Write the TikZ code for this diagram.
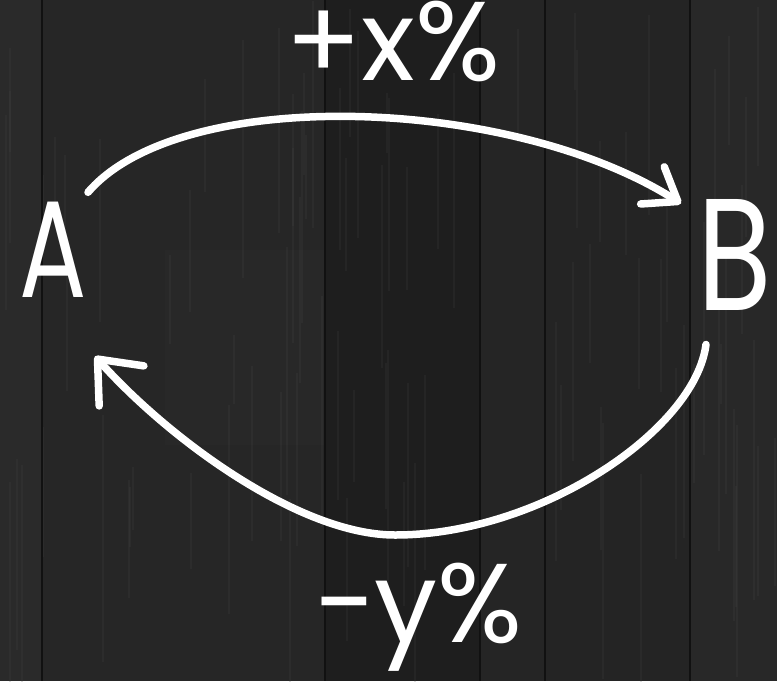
\documentclass[tikz,border=0pt]{standalone}
\usepackage{fontspec}
\setmainfont{Poppins}
\usetikzlibrary{arrows.meta,calc}
\definecolor{woodA}{HTML}{2A2A2A}
\definecolor{woodB}{HTML}{262626}
\definecolor{woodC}{HTML}{1E1E1E}
\definecolor{woodD}{HTML}{252525}
\definecolor{woodE}{HTML}{242424}
\definecolor{woodF}{HTML}{282828}
\definecolor{seamcol}{HTML}{111111}
\definecolor{streak}{HTML}{4A4A4A}
\begin{document}
\begin{tikzpicture}[x=1pt,y=-1pt,
  chalk/.style={draw=white,line width=7.5pt,line cap=round,line join=round},
  letter/.style={text=white,inner sep=0pt,anchor=base,font=\fontsize{135}{135}\selectfont},
  pct/.style={text=white,inner sep=0pt,anchor=base,font=\fontsize{112}{112}\selectfont},
  seam/.style={draw=seamcol,line width=2.2pt},
  grain/.style={draw=streak,line width=1.2pt,opacity=0.18}
]
\useasboundingbox (0,0) rectangle (777,681);
% wooden planks
\fill[woodA] (0,0) rectangle (42,681);
\fill[woodB] (42,0) rectangle (325,681);
\fill[woodC] (325,0) rectangle (480,681);
\fill[woodD] (480,0) rectangle (545,681);
\fill[woodE] (545,0) rectangle (690,681);
\fill[woodF] (690,0) rectangle (777,681);
\fill[woodA,opacity=0.6] (165,250) rectangle (325,445);
\fill[woodD,opacity=0.6] (620,340) rectangle (690,530);
% grain streaks
\pgfmathsetseed{11}
\foreach \i in {1,...,90}{
  \pgfmathsetmacro{\gx}{random(2,775)}
  \pgfmathsetmacro{\gy}{random(0,500)}
  \pgfmathsetmacro{\gl}{random(60,260)}
  \draw[grain] (\gx,\gy) -- (\gx,\gy+\gl);
}
\foreach \sx in {42,325,480,545,690}{
  \draw[seam] (\sx,0) -- (\sx,681);
}
% labels
\node[letter] (A) at (53,297) {\scalebox{0.74}[1.02]{A}};
\node[letter] (B) at (735,310) {\scalebox{0.9}[1.18]{B}};
\node[pct] (top) at (393,80) {+x\%};
\node[pct] (bot) at (418,642) {−y\%};
% arrows
\draw[chalk,-{Straight Barb[length=30pt,width=44pt,line cap=round,line join=round]}]
  ($(A)+(35,-57)$) .. controls (180,85) and (510,95) .. ($(B)+(-54,-51)$);
\coordinate (low) at (395,535);
\draw[chalk,-{Straight Barb[length=36pt,width=60pt,line cap=round,line join=round]}]
  ($(B)+(-29,90)$) .. controls (695,430) and (540,535) .. (low)
  .. controls (300,535) and (170,440) .. ($(A)+(42,107)$);
\end{tikzpicture}
\end{document}
